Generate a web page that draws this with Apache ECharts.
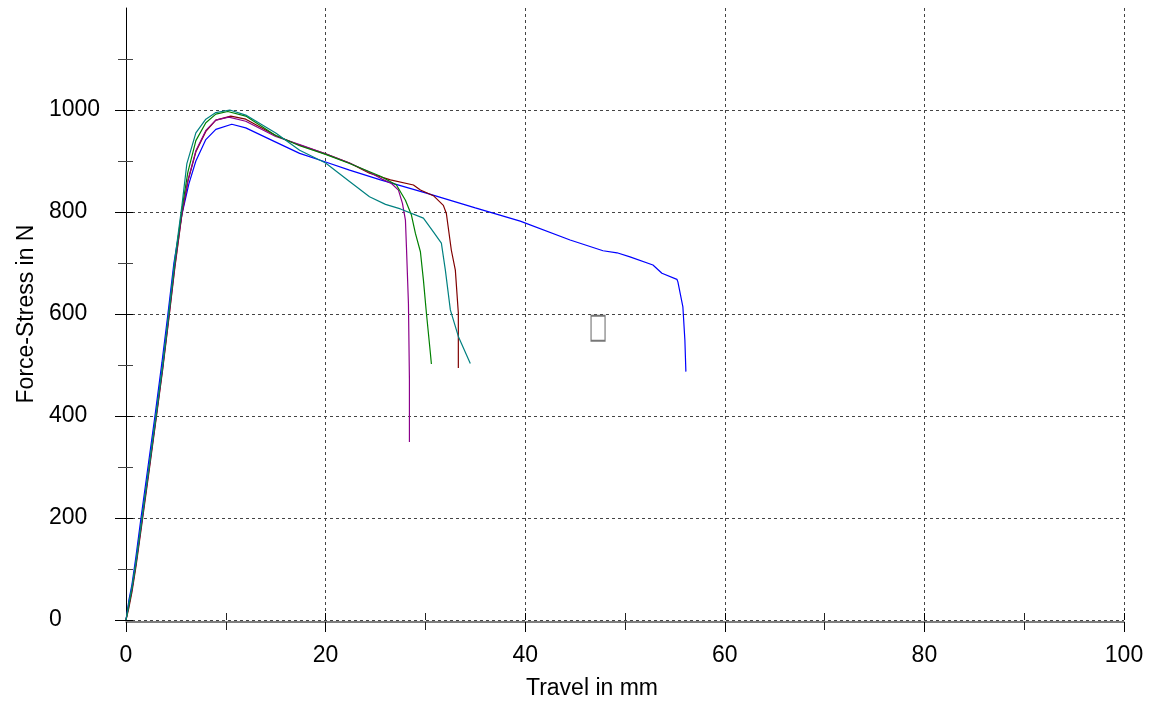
<!DOCTYPE html>
<html>
<head>
<meta charset="utf-8">
<title>Force-Stress vs Travel</title>
<script src="https://cdn.jsdelivr.net/npm/echarts@6/dist/echarts.min.js"></script>
<style>
  html, body { margin: 0; padding: 0; background: #fff; }
  #chart { width: 1149px; height: 702px; }
</style>
</head>
<body>
<div id="chart"></div>
<script>
// axis ticks
const xTicks = [0, 20, 40, 60, 80, 100]
const yTicks = [0, 200, 400, 600, 800, 1000]

// curve data (travel in mm / force in N)
const blueX = [0, 0.3, 0.6, 1.0, 1.5, 2.2, 2.9, 3.6, 4.2, 4.8, 5.6, 6.3, 7.0, 8.0, 9.0, 10.6, 12, 14.9, 17.4, 20, 22.4, 25.5, 30.1, 35, 39.5, 44.5, 47.8, 49.2, 50.5, 52.8, 53.7, 55.2, 55.3, 55.8, 56.0, 56.1]
const blueY = [0, 40, 70, 125, 200, 300, 400, 505, 600, 700, 795, 855, 900, 942, 962, 972, 965, 938, 915, 898, 882, 863, 837, 808, 782, 745, 724, 720, 712, 696, 680, 668, 663, 614, 549, 487]

const maroonX = [0, 0.3, 0.6, 1.0, 1.6, 2.3, 3.0, 3.7, 4.3, 4.9, 5.6, 6.2, 7.0, 8.0, 9.0, 10.5, 12, 15, 17.4, 20, 22.4, 24.4, 26.5, 28.8, 29.5, 30.8, 31.8, 32.1, 32.6, 33.0, 33.3, 33.3]
const maroonY = [0, 25, 55, 105, 190, 290, 392, 495, 592, 692, 795, 860, 918, 958, 980, 988, 982, 950, 931, 914, 896, 876, 863, 853, 843, 832, 813, 797, 725, 686, 602, 494]

const purpleX = [0, 0.3, 0.6, 1.0, 1.6, 2.3, 3.0, 3.7, 4.3, 4.9, 5.6, 6.2, 7.0, 8.0, 9.0, 10.3, 12, 15, 17.4, 20, 22.4, 24.4, 25.5, 26.6, 27.3, 27.7, 28.0, 28.1, 28.3, 28.4, 28.4]
const purpleY = [0, 30, 60, 110, 195, 295, 395, 498, 595, 695, 797, 862, 920, 960, 980, 986, 978, 948, 932, 914, 896, 878, 866, 856, 843, 817, 784, 732, 621, 470, 349]

const greenX = [0, 0.3, 0.6, 1.0, 1.6, 2.3, 3.0, 3.7, 4.3, 4.9, 5.6, 6.2, 7.0, 8.0, 9.0, 10.2, 12, 15, 17.4, 20, 22.4, 25.5, 27.1, 28.0, 28.6, 29.0, 29.5, 29.8, 30.1, 30.5, 30.6]
const greenY = [0, 30, 62, 112, 198, 298, 398, 502, 600, 702, 805, 878, 940, 975, 992, 997, 988, 950, 930, 913, 895, 870, 853, 823, 794, 758, 722, 667, 602, 523, 502]

const tealX = [0, 0.3, 0.6, 1.0, 1.6, 2.3, 3.0, 3.7, 4.3, 4.9, 5.6, 6.1, 7.0, 8.0, 9.0, 10.4, 12, 15, 17.4, 20, 22.4, 24.4, 26.0, 27.5, 29.8, 30.8, 31.6, 32.0, 32.5, 33.3, 34.5]
const tealY = [0, 35, 65, 115, 200, 300, 402, 505, 605, 708, 812, 895, 955, 982, 995, 1000, 990, 955, 921, 896, 860, 830, 815, 806, 788, 761, 739, 686, 608, 556, 503]

// stray box glyph in the plot area
const markerX = [47.3]
const markerY = [572]

const zip = (xs, ys) => xs.map((x, i) => [x, ys[i]])

const chart = echarts.init(document.getElementById('chart'))

const font = 'Liberation Sans, Arial, sans-serif'
const gridLine = { show: true, lineStyle: { color: '#444', type: [3, 3], width: 1 } }

const makeLine = (name, color, xs, ys) => ({
  name: name,
  type: 'line',
  data: zip(xs, ys),
  symbol: 'none',
  smooth: false,
  silent: true,
  lineStyle: { color: color, width: 1.2 },
  itemStyle: { color: color }
})

const option = {
  animation: false,
  backgroundColor: '#fff',
  grid: {
    left: 126,
    right: 25,
    top: 8,
    bottom: 82,
    containLabel: false,
    outerBoundsMode: 'none'
  },
  xAxis: [
    {
      type: 'value',
      min: xTicks[0],
      max: xTicks[xTicks.length - 1],
      interval: 20,
      position: 'bottom',
      offset: 2,
      name: 'Travel in mm',
      nameLocation: 'middle',
      nameGap: 55,
      nameTextStyle: { color: '#000', fontSize: 23, fontFamily: font, padding: [0, 66, 0, 0] },
      axisLine: { show: true, onZero: false, lineStyle: { color: '#555', width: 1.5 } },
      axisTick: { show: true, length: 10, lineStyle: { color: '#000' } },
      minorTick: { show: true, splitNumber: 2, length: 8, lineStyle: { color: '#222' } },
      axisLabel: { color: '#000', fontSize: 23, fontFamily: font, margin: 22, formatter: (v) => String(v) },
      splitLine: gridLine
    },
    {
      type: 'value',
      min: xTicks[0],
      max: xTicks[xTicks.length - 1],
      interval: 20,
      position: 'bottom',
      offset: 2,
      axisLine: { show: false },
      axisTick: { show: true, inside: true, length: 7, lineStyle: { color: '#000' } },
      minorTick: { show: true, splitNumber: 2, length: 7, lineStyle: { color: '#222' } },
      axisLabel: { show: false },
      splitLine: { show: false }
    }
  ],
  yAxis: [
    {
      type: 'value',
      min: yTicks[0],
      max: 1200,
      interval: 200,
      name: 'Force-Stress in N',
      nameLocation: 'middle',
      nameGap: 88,
      nameTextStyle: { color: '#000', fontSize: 23, fontFamily: font },
      axisLine: { show: true, onZero: false, lineStyle: { color: '#000', width: 1 } },
      axisTick: { show: true, length: 11, customValues: yTicks, lineStyle: { color: '#000' } },
      minorTick: { show: true, splitNumber: 2, length: 8, lineStyle: { color: '#444' } },
      axisLabel: {
        color: '#000',
        fontSize: 23,
        fontFamily: font,
        align: 'left',
        margin: 77,
        customValues: yTicks,
        formatter: (v) => String(v)
      },
      splitLine: { show: true, lineStyle: { color: '#444', type: [3, 3], width: 1 } }
    },
    {
      type: 'value',
      min: yTicks[0],
      max: 1200,
      interval: 200,
      position: 'left',
      axisLine: { show: false },
      axisTick: { show: true, inside: true, length: 7, customValues: yTicks, lineStyle: { color: '#000' } },
      minorTick: { show: true, splitNumber: 2, length: 7, lineStyle: { color: '#444' } },
      axisLabel: { show: false },
      splitLine: { show: false }
    }
  ],
  series: [
    makeLine('blue', '#0000FF', blueX, blueY),
    makeLine('maroon', '#800000', maroonX, maroonY),
    makeLine('purple', '#8B008B', purpleX, purpleY),
    makeLine('green', '#008000', greenX, greenY),
    makeLine('teal', '#008080', tealX, tealY),
    {
      name: 'marker',
      type: 'scatter',
      silent: true,
      data: zip(markerX, markerY),
      symbol: 'rect',
      symbolSize: [14, 25],
      itemStyle: { color: 'rgba(0,0,0,0)', borderColor: '#555', borderWidth: 1.5 }
    }
  ]
}

chart.setOption(option)

window.addEventListener('resize', () => {
  chart.resize()
})
</script>
</body>
</html>
